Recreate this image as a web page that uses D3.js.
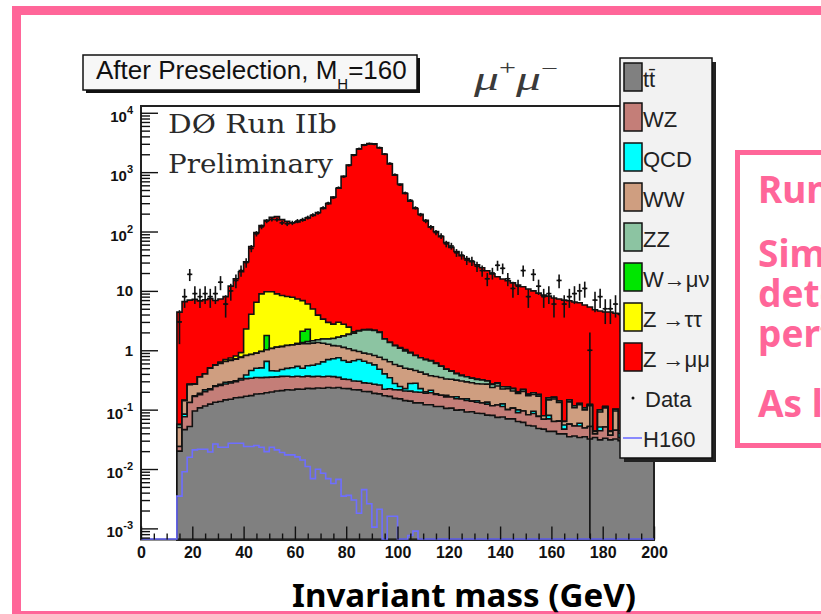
<!DOCTYPE html>
<html>
<head>
<meta charset="utf-8">
<script src="https://cdn.jsdelivr.net/npm/d3@7"></script>
<style>
  body { margin: 0; background: #fff; }
  svg { display: block; }
</style>
</head>
<body>
<svg id="chart" width="821" height="614"></svg>
<script>
// Dimuon invariant mass after preselection, 2 GeV bins from 14 to 200 GeV
const binLow = d3.range(14, 200, 2);

const ttbar = [
  0.020,0.046,0.052,0.095,0.107,0.115,0.124,0.133,0.137,0.146,
  0.150,0.159,0.161,0.168,0.172,0.183,0.185,0.193,0.198,0.206,
  0.209,0.216,0.214,0.222,0.220,0.228,0.226,0.232,0.229,0.236,
  0.231,0.236,0.227,0.226,0.216,0.215,0.202,0.201,0.188,0.184,
  0.171,0.167,0.155,0.152,0.142,0.139,0.130,0.130,0.121,0.121,
  0.113,0.113,0.105,0.106,0.098,0.099,0.091,0.092,0.087,0.086,
  0.081,0.080,0.074,0.075,0.070,0.070,0.063,0.061,0.054,0.053,
  0.048,0.047,0.043,0.043,0.039,0.039,0.035,0.036,0.034,0.035,
  0.032,0.034,0.031,0.033,0.031,0.032,0.030,0.031,0.029,0.031,
  0.028,0.030,0.028];

const wz = [
  0.004,0.030,0.080,0.071,0.071,0.085,0.093,0.113,0.119,0.124,
  0.131,0.137,0.154,0.165,0.165,0.165,0.161,0.156,0.155,0.151,
  0.154,0.149,0.144,0.144,0.139,0.139,0.134,0.134,0.129,0.129,
  0.129,0.113,0.100,0.095,0.088,0.085,0.080,0.078,0.080,0.076,
  0.050,0.058,0.061,0.063,0.064,0.066,0.068,0.066,0.068,0.071,
  0.067,0.062,0.059,0.057,0.055,0.053,0.052,0.047,0.046,0.044,
  0.043,0.036,0.046,0.038,0.030,0.036,0.026,0.034,0.028,0.033,
  0.029,0.022,0.027,0.020,0.025,0.008,0.022,0.017,0.019,0.014,
  0.020,0.005,0.013,0.018,0.006,0.013,0.004,0.017,0.012,0.015,
  0.014,0.013,0.014];

const qcd = [
  0,0.008,0,0.005,0.010,0.015,0.008,0.005,0.010,0.020,
  0.012,0.010,0.020,0.050,0.120,0.150,0.160,0.300,0.100,0.090,
  0.110,0.130,0.150,0.170,0.140,0.180,0.200,0.220,0.280,0.330,
  0.360,0.400,0.345,0.310,0.360,0.400,0.370,0.330,0.300,0.220,
  0.180,0.120,0.060,0.030,0.020,0.070,0.080,0.030,0.010,0.020,
  0.005,0,0.010,0,0.012,0,0.010,0,0.008,0,
  0.010,0,0,0.012,0,0,0.010,0,0,0.008,
  0,0,0.010,0,0,0.008,0,0,0.006,0,
  0,0,0.007,0,0,0,0.006,0,0,0,
  0.005,0,0];

const ww = [
  0.026,0.057,0.131,0.098,0.167,0.183,0.274,0.312,0.336,0.357,
  0.382,0.403,0.423,0.432,0.392,0.394,0.448,0.373,0.615,0.675,
  0.677,0.707,0.717,0.727,0.787,0.747,0.757,0.767,0.677,0.567,
  0.477,0.428,0.446,0.431,0.332,0.255,0.243,0.255,0.250,0.281,
  0.296,0.296,0.301,0.296,0.271,0.206,0.177,0.202,0.197,0.161,
  0.176,0.173,0.155,0.162,0.149,0.151,0.140,0.144,0.132,0.140,
  0.135,0.120,0.130,0.098,0.125,0.100,0.088,0.108,0.090,0.086,
  0.092,0.010,0.066,0.088,0.068,0.008,0.078,0.055,0.062,0.050,
  0.064,0.004,0.040,0.056,0.006,0.050,0.004,0.046,0.036,0.042,
  0.033,0.037,0.036];

const zz = [
  0.006,0.003,0.004,0,0.003,0,0.004,0,0.003,0,
  0.004,0,0.005,0,0,0,0,0,0,0,
  0,0,0,0.040,0.060,0.110,0.130,0.150,0.230,0.290,
  0.380,0.480,0.630,0.790,0.950,1.150,1.300,1.340,1.330,1.240,
  0.850,0.710,0.620,0.540,0.480,0.420,0.360,0.320,0.300,0.290,
  0.240,0.190,0.150,0.120,0.090,0.070,0.065,0.055,0.050,0.045,
  0.035,0.030,0.025,0.020,0.015,0.020,0.010,0.015,0.010,0.012,
  0.010,0,0.012,0.010,0.008,0,0.010,0.008,0.006,0.008,
  0.006,0,0.008,0.006,0,0.006,0,0.005,0.005,0.004,
  0.004,0.004,0.004];

const wmunu = [
  0,0,0,0,0,0,0,0,0,0,
  0,0,0,0,0,0,0,0.75,0,0,
  0,0,0,0,0.75,0.85,0,0,0,0,
  0,0,0,0,0,0,0,0,0,0,
  0,0,0,0,0,0,0,0,0,0,
  0,0,0,0,0,0,0,0,0,0,
  0,0,0,0,0,0,0,0,0,0,
  0,0,0,0,0,0,0,0,0,0,
  0,0,0,0,0,0,0,0,0,0,
  0,0,0];

const ztautau = [
  0,0,0,0,0,0,0,0,0.03,0.05,
  0.06,0.09,0.15,1.46,3.2,5.56,7.95,7.9,8.6,7.8,
  7.2,6.86,6.6,6.0,4.75,3.75,3.5,2.4,1.8,1.4,
  1.18,1.3,1.0,0.6,0.1,0.05,0.03,0.06,0.02,0,
  0.02,0.01,0,0.03,0.05,0.02,0,0,0,0.01,
  0,0,0,0,0,0.01,0,0,0,0,
  0,0,0.008,0,0,0,0,0,0,0,
  0,0,0,0,0,0,0,0,0,0,
  0,0,0,0,0,0,0,0,0,0,
  0,0,0];

const zmumu = [
  4.34,6.46,6.73,6.93,6.44,6.70,6.90,6.34,6.66,7.30,
  11.3,15.2,20.1,28.7,52.0,89.5,117,145,164,169,
  150,140,133,138,148,164,181,205,242,292,
  377,534,848,1318,1948,2448,2878,3018,2988,2568,
  1998,1379,889,629,436,323,244,194,154,119,
  99.4,81.5,64.5,53.6,45.6,38.6,34.6,30.7,27.2,24.2,
  21.5,19.1,17.0,15.6,14.6,13.4,12.4,11.5,10.6,9.8,
  9.0,8.4,8.0,7.45,7.15,6.94,6.66,6.37,6.18,5.68,
  5.24,4.76,4.49,4.30,4.36,4.10,4.06,3.91,3.91,3.81,
  3.82,3.72,3.72];

const dataCounts = [
  3,8,19,9,8,9,8,9,14,6,
  10,15,22,30,52,92,120,150,160,158,
  140,135,140,150,158,172,190,205,250,300,
  372,545,840,1300,1930,2470,2860,3000,2960,2580,
  2010,1400,905,610,445,335,250,192,150,118,
  96,84,62,57,44,40,33,32,26,22,
  16,20,27,24,16,11,12,22,8,19,
  12,8,9,6,15,6,8,9,10,11,
  1,7,8,5,5,6,4,5,3,6,
  4,3,5];

const h160 = [
  0.0035,0.009,0.0158,0.021,0.0215,0.0215,0.0193,0.0264,0.0233,0.0233,
  0.0272,0.0272,0.0272,0.024,0.024,0.0249,0.0233,0.0196,0.0233,0.021,
  0.019,0.0173,0.0173,0.016,0.0142,0.011,0.0069,0.0099,0.0085,0.0069,
  0.0057,0.0067,0.0035,0.0036,0.003,0.0018,0.0045,0.0026,0.00105,0.0021,
  0,0.0016,0.0016,0,0,0.00076,0.0009,0,0,0,
  0,0,0,0,0,0,0,0,0,0,
  0,0,0,0,0,0,0,0,0,0,
  0,0,0,0,0,0,0,0,0,0,
  0,0,0,0,0,0,0,0,0,0,
  0,0,0];

const xTicks = d3.range(0, 201, 20);
const yDecades = d3.range(-3, 5);

// stack from bottom to top
const stackSeries = [
  { label: "t\u0074\u0304", values: ttbar,   color: "#808080" },
  { label: "WZ",            values: wz,      color: "#c47e78" },
  { label: "QCD",           values: qcd,     color: "#00ffff" },
  { label: "WW",            values: ww,      color: "#cf9e80" },
  { label: "ZZ",            values: zz,      color: "#8cc4a2" },
  { label: "W\u2192\u03bc\u03bd", values: wmunu, color: "#00e600" },
  { label: "Z \u2192\u03c4\u03c4", values: ztautau, color: "#ffff00" },
  { label: "Z \u2192\u03bc\u03bc", values: zmumu,   color: "#ff0000" }
];

const pink = "#ff6699";
const svg = d3.select("#chart");
svg.append("rect").attr("width", 821).attr("height", 614).attr("fill", "#fff");

// slide frame
svg.append("rect").attr("x", 16.5).attr("y", 10.5).attr("width", 900).attr("height", 605)
  .attr("fill", "none").attr("stroke", pink).attr("stroke-width", 9);

// side text box
svg.append("rect").attr("x", 737.5).attr("y", 152.5).attr("width", 200).attr("height", 293)
  .attr("fill", "none").attr("stroke", pink).attr("stroke-width", 5);
const sideLines = [["Run IIb data", 203], ["Simulation", 267], ["detector", 307], ["performance", 347], ["As listed", 417]];
svg.selectAll("text.side").data(sideLines).enter().append("text")
  .attr("class", "side").attr("x", 758).attr("y", d => d[1])
  .attr("font-family", "'Noto Sans', 'DejaVu Sans', sans-serif").attr("font-weight", "bold")
  .attr("font-size", 37).attr("fill", pink).text(d => d[0]);

// plot frame geometry
const X0 = 141, X1 = 654, YT = 106, YB = 539.5;
const x = d3.scaleLinear().domain([0, 200]).range([X0, X1]);
const y = d3.scaleLog().domain([6.5e-4, 1.3e4]).range([YB, YT]);
const yMin = y.domain()[0];
const yc = v => (v > yMin ? y(v) : YB);

// title pave
svg.append("rect").attr("x", 86).attr("y", 58).attr("width", 334).attr("height", 35).attr("fill", "#111");
svg.append("rect").attr("x", 83).attr("y", 55).attr("width", 334).attr("height", 35)
  .attr("fill", "#f7f7f7").attr("stroke", "#111").attr("stroke-width", 1.5);
const title = svg.append("text").attr("x", 96).attr("y", 79)
  .attr("font-family", "'Liberation Sans', Arial, sans-serif").attr("font-size", 26).attr("fill", "#111");
title.append("tspan").text("After Preselection, M");
title.append("tspan").attr("font-size", 15).attr("dy", 10).text("H");
title.append("tspan").attr("dy", -10).text("=160");

// channel label
const chan = svg.append("text").attr("x", 474).attr("y", 90)
  .attr("font-family", "'Liberation Serif', 'DejaVu Serif', serif").attr("font-style", "italic")
  .attr("font-weight", "normal").attr("font-size", 33).attr("fill", "#3a3a3a")
  .attr("textLength", 84).attr("lengthAdjust", "spacingAndGlyphs");
chan.append("tspan").text("\u03bc");
chan.append("tspan").attr("font-size", 20).attr("dy", -15).attr("font-style", "normal").text("+");
chan.append("tspan").attr("dy", 15).text("\u03bc");
chan.append("tspan").attr("font-size", 20).attr("dy", -15).attr("font-style", "normal").text("\u2212");

// stacked histograms
const cumul = [];
stackSeries.forEach((s, k) => {
  cumul.push(s.values.map((v, i) => v + (k ? cumul[k - 1][i] : 0)));
});
function stepArea(vals) {
  let d = `M${x(binLow[0])},${YB}`;
  vals.forEach((v, i) => { d += `V${yc(v)}H${x(binLow[i] + 2)}`; });
  return d + `V${YB}Z`;
}
const gHist = svg.append("g");
for (let k = stackSeries.length - 1; k >= 0; k--) {
  gHist.append("path").attr("d", stepArea(cumul[k]))
    .attr("fill", stackSeries[k].color).attr("stroke", "#111")
    .attr("stroke-width", 1.6).attr("stroke-linejoin", "miter");
}

// data points with Poisson errors
const gData = svg.append("g").attr("stroke", "#111").attr("stroke-width", 1.6);
dataCounts.forEach((n, i) => {
  if (n <= 0) return;
  const cx = x(binLow[i] + 1), e = Math.sqrt(n);
  gData.append("line").attr("x1", cx).attr("x2", cx)
    .attr("y1", yc(n - e)).attr("y2", y(n + e));
  gData.append("line").attr("x1", x(binLow[i])).attr("x2", x(binLow[i] + 2))
    .attr("y1", y(n)).attr("y2", y(n));
  gData.append("circle").attr("cx", cx).attr("cy", y(n)).attr("r", 1.2).attr("fill", "#111").attr("stroke", "none");
});

// frame
svg.append("rect").attr("x", X0).attr("y", YT).attr("width", X1 - X0).attr("height", YB - YT)
  .attr("fill", "none").attr("stroke", "#222").attr("stroke-width", 2);

// signal line
let hd = `M${x(0)},${YB - 0.5}H${x(binLow[0])}`;
h160.forEach((v, i) => { hd += `V${v > yMin ? y(v) : YB - 0.5}H${x(binLow[i] + 2)}`; });
svg.append("path").attr("d", hd).attr("fill", "none").attr("stroke", "#6e6eff").attr("stroke-width", 1.6);

// axes (ticks point into the frame)
const yMajor = yDecades.map(e => Math.pow(10, e));
const yMinor = [];
d3.range(-4, 5).forEach(e => d3.range(2, 10).forEach(k => {
  const v = k * Math.pow(10, e);
  if (v > y.domain()[0] && v < y.domain()[1]) yMinor.push(v);
}));
function styleAxis(g) {
  g.select(".domain").remove();
  g.selectAll(".tick line").attr("stroke", "#111").attr("stroke-width", 1.4);
}
svg.append("g").attr("transform", `translate(${X0},0)`)
  .call(d3.axisLeft(y).tickValues(yMinor).tickSize(-9).tickFormat("")).call(styleAxis);
svg.append("g").attr("transform", `translate(${X0},0)`)
  .call(d3.axisLeft(y).tickValues(yMajor).tickSize(-17).tickFormat("")).call(styleAxis);
svg.append("g").attr("transform", `translate(0,${YB})`)
  .call(d3.axisBottom(x).tickValues(d3.range(0, 201, 5).filter(v => v % 20)).tickSize(-6).tickFormat(""))
  .call(styleAxis);
const gx = svg.append("g").attr("transform", `translate(0,${YB})`)
  .call(d3.axisBottom(x).tickValues(xTicks).tickSize(-13).tickPadding(7).tickFormat(d3.format("d")))
  .call(styleAxis);
gx.selectAll(".tick text").attr("font-family", "'Liberation Sans', Arial, sans-serif")
  .attr("font-weight", "bold").attr("font-size", 16).attr("fill", "#111");

// y labels as powers of ten
const gyl = svg.append("g").attr("font-family", "'Liberation Sans', Arial, sans-serif")
  .attr("font-weight", "bold").attr("fill", "#111").attr("text-anchor", "end");
yDecades.forEach(e => {
  const t = gyl.append("text").attr("x", 133).attr("font-size", 15);
  const ty = y(Math.pow(10, e));
  if (e === 0) { t.attr("y", ty + 5.5).text("1"); return; }
  if (e === 1) { t.attr("y", ty + 5.5).text("10"); return; }
  t.attr("y", ty + 9);
  t.append("tspan").text("10");
  t.append("tspan").attr("font-size", 11).attr("dy", -8).text(String(e));
});

// experiment label
const serif = "'DejaVu Serif', 'Liberation Serif', serif";
svg.append("text").attr("x", 168).attr("y", 133).attr("font-family", serif).attr("font-size", 26)
  .attr("fill", "#2a2a2a").attr("textLength", 169).attr("lengthAdjust", "spacingAndGlyphs").text("D\u00d8 Run IIb");
svg.append("text").attr("x", 168).attr("y", 173).attr("font-family", serif).attr("font-size", 26)
  .attr("fill", "#2a2a2a").attr("textLength", 165).attr("lengthAdjust", "spacingAndGlyphs").text("Preliminary");

// legend
const lx = 620, ly = 58, lw = 92, lh = 400;
svg.append("rect").attr("x", lx + 4).attr("y", ly + 4).attr("width", lw).attr("height", lh).attr("fill", "#222");
svg.append("rect").attr("x", lx).attr("y", ly).attr("width", lw).attr("height", lh)
  .attr("fill", "#f2f2f2").attr("stroke", "#111").attr("stroke-width", 1.5);
const legendItems = stackSeries.map(s => ({ label: s.label, color: s.color, kind: "box" }))
  .concat([{ label: "Data", kind: "dot" }, { label: "H160", kind: "line" }]);
const gl = svg.append("g").attr("font-family", "'Liberation Sans', Arial, sans-serif").attr("font-size", 22).attr("fill", "#222");
legendItems.forEach((it, i) => {
  const top = 63 + 40 * i;
  if (it.kind === "box") {
    gl.append("rect").attr("x", 624).attr("y", top).attr("width", 18).attr("height", 28)
      .attr("fill", it.color).attr("stroke", "#111").attr("stroke-width", 1.5);
  } else if (it.kind === "dot") {
    gl.append("circle").attr("cx", 633).attr("cy", top + 15).attr("r", 1.5).attr("fill", "#111");
  } else {
    gl.append("line").attr("x1", 623).attr("x2", 642).attr("y1", top + 15).attr("y2", top + 15)
      .attr("stroke", "#6e6eff").attr("stroke-width", 1.6);
  }
  gl.append("text").attr("x", it.kind === "dot" ? 645 : 643).attr("y", top + 24).text(it.label);
});

// slide caption
svg.append("text").attr("x", 292).attr("y", 607)
  .attr("font-family", "'Noto Sans', 'DejaVu Sans', sans-serif").attr("font-weight", "bold")
  .attr("font-size", 32).attr("fill", "#000")
  .attr("textLength", 344).attr("lengthAdjust", "spacingAndGlyphs").text("Invariant mass (GeV)");
</script>
</body>
</html>
